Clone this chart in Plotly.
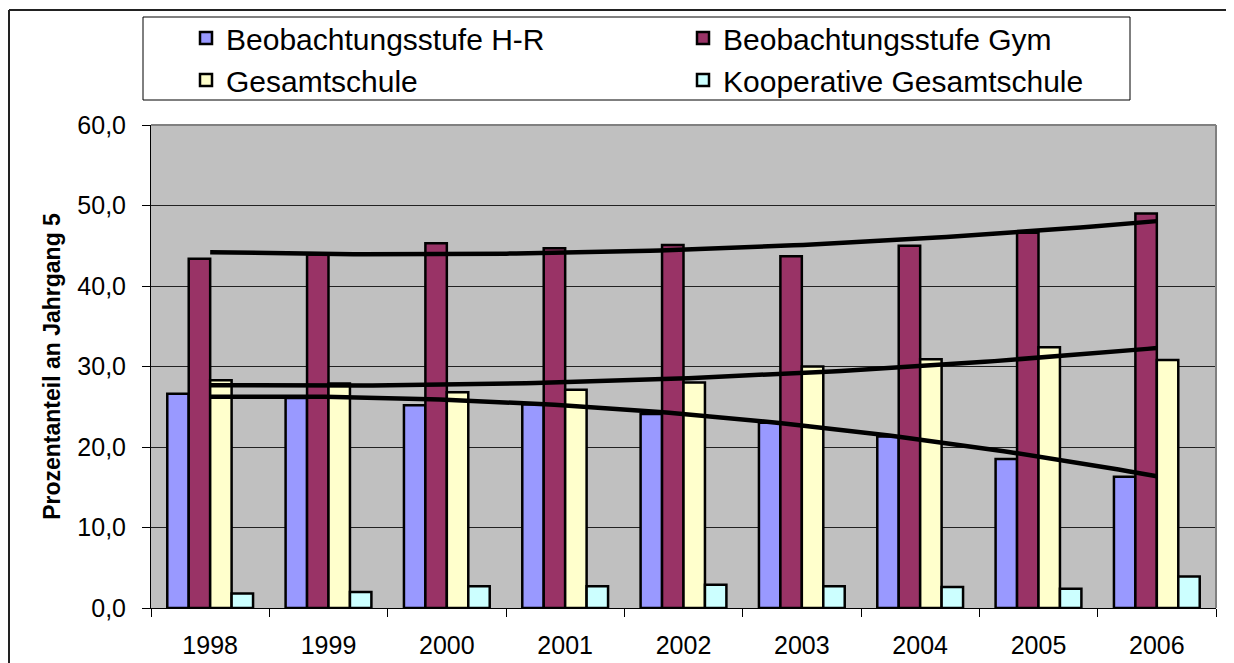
import numpy as np
import plotly.graph_objects as go

years = ["1998", "1999", "2000", "2001", "2002", "2003", "2004", "2005", "2006"]
hr = [26.6, 26.1, 25.2, 25.3, 24.1, 23.0, 21.3, 18.5, 16.3]
gym = [43.4, 43.9, 45.3, 44.7, 45.1, 43.7, 45.0, 46.6, 49.0]
gesamt = [28.3, 27.9, 26.8, 27.1, 28.0, 30.0, 30.9, 32.4, 30.8]
koop = [1.8, 2.0, 2.7, 2.7, 2.9, 2.7, 2.6, 2.4, 3.9]

names = ["Beobachtungsstufe H-R", "Beobachtungsstufe Gym", "Gesamtschule", "Kooperative Gesamtschule"]
colors = ["#9999FF", "#993366", "#FFFFCC", "#CCFFFF"]
series = [hr, gym, gesamt, koop]
trend_series = [hr, gym, gesamt]

OFF = 8  # page body margin
W, H = 1234 - OFF, 663 - OFF
# target plot area in page pixels: x 151..1216, y 125..608
L, R, T, B = 151 - OFF, W - (1216 - OFF), 125 - OFF, H - (608 - OFF)
pw, ph = W - L - R, H - T - B

def px_x(p):
    return (p - OFF - L) / pw

def px_y(p):
    return (H - B - (p - OFF)) / ph

FONT = "Liberation Sans, Arial, sans-serif"

fig = go.Figure()
for name, col, vals in zip(names, colors, series):
    fig.add_trace(go.Bar(
        x=years, y=vals, name=name,
        marker=dict(color=col, line=dict(color="black", width=2.5)),
    ))

idx = np.arange(len(years))
xs = np.linspace(0, len(years) - 1, 100)
for vals in trend_series:
    coef = np.polyfit(idx, vals, 2)
    fig.add_trace(go.Scatter(
        x=xs, y=np.polyval(coef, xs), mode="lines", xaxis="x2",
        line=dict(color="black", width=4.5), showlegend=False, hoverinfo="skip",
    ))

fig.update_layout(
    width=W, height=H,
    margin=dict(l=L, r=R, t=T, b=B, autoexpand=False),
    paper_bgcolor="white",
    plot_bgcolor="#C0C0C0",
    separators=",.",
    barmode="group", bargap=0.275, bargroupgap=0,
    font=dict(family=FONT, color="black", size=25),
    xaxis=dict(
        type="category", tickson="boundaries", ticks="outside", ticklen=8,
        tickcolor="black", showgrid=False, showline=True, linecolor="black",
        linewidth=1, tickfont=dict(size=25), ticklabelstandoff=15, automargin=False,
    ),
    xaxis2=dict(overlaying="x", range=[-0.5, len(years) - 0.5], visible=False),
    yaxis=dict(
        range=[0, 60], dtick=10, tickformat=".1f", ticks="outside", ticklen=8,
        tickcolor="black", showgrid=True, gridcolor="#222222", gridwidth=1,
        showline=True, linecolor="black", linewidth=1, zeroline=False,
        tickfont=dict(size=25), ticklabelstandoff=11, automargin=False,
        title=dict(text="<b>Prozentanteil an Jahrgang 5</b>", font=dict(size=23), standoff=10),
    ),
    legend=dict(
        orientation="h", x=px_x(186), xanchor="left", y=px_y(12), yanchor="top",
        font=dict(size=30), entrywidth=452, entrywidthmode="pixels",
        bgcolor="rgba(0,0,0,0)", borderwidth=0, traceorder="normal",
    ),
    shapes=[
        dict(type="rect", xref="paper", yref="paper",
             x0=px_x(143), x1=px_x(1130), y0=px_y(100), y1=px_y(17),
             line=dict(color="black", width=1), fillcolor="white", layer="below"),
        # outer frame: top and left edges only
        dict(type="line", xref="paper", yref="paper",
             x0=px_x(9), x1=px_x(1234), y0=px_y(10), y1=px_y(10),
             line=dict(color="#222222", width=2)),
        dict(type="line", xref="paper", yref="paper",
             x0=px_x(9), x1=px_x(9), y0=px_y(10), y1=px_y(663),
             line=dict(color="#222222", width=2)),
        dict(type="line", xref="paper", yref="paper", x0=0, x1=1, y0=1, y1=1,
             line=dict(color="#808080", width=2)),
        dict(type="line", xref="paper", yref="paper", x0=1, x1=1, y0=0, y1=1,
             line=dict(color="#808080", width=2)),
    ],
)

fig.write_html("out.html")
